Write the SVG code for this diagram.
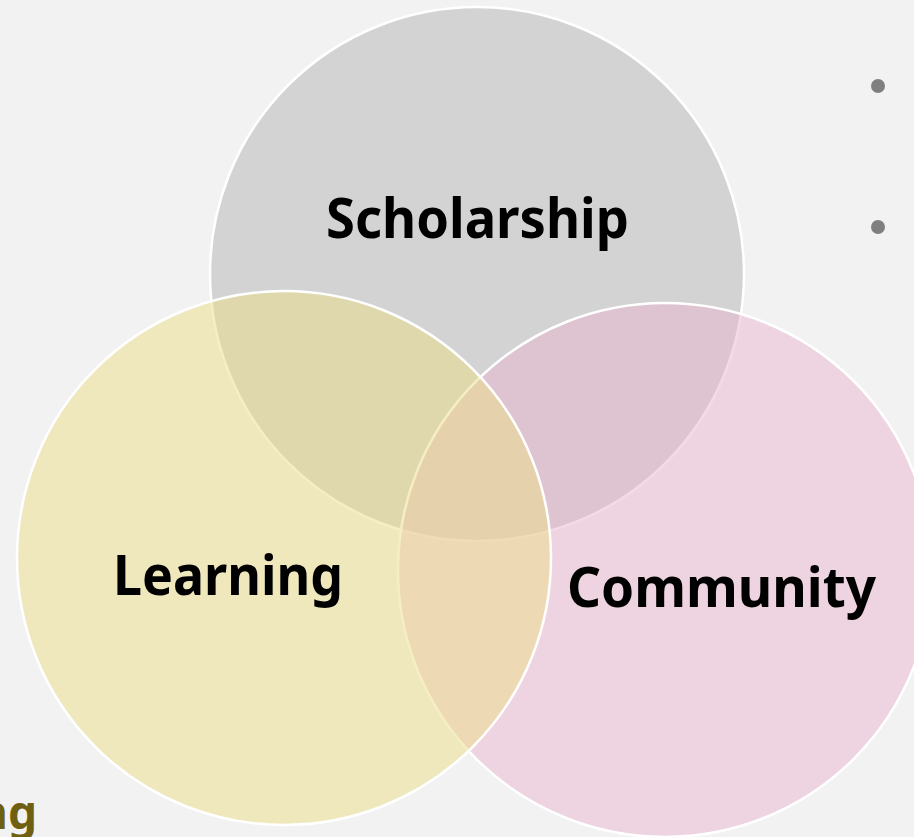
<svg xmlns="http://www.w3.org/2000/svg" width="914" height="837" viewBox="0 0 914 837">
  <style>
    .ring { stroke: #ffffff; stroke-width: 2.5; fill-opacity: 0.5; }
    .label { font-family: "Noto Sans", "Open Sans", sans-serif; font-weight: bold; font-size: 56px; fill: #000000; }
    .bullet { fill: #7f7f7f; }
  </style>
  <rect width="914" height="837" fill="#f2f2f2"/>

  <!-- clipped tail of a heading at the lower left -->
  <text x="37" y="829" text-anchor="end" font-family="'Noto Sans', 'Open Sans', sans-serif" font-weight="bold" font-size="46" fill="#6e6010">ng</text>

  <!-- list bullets on the right -->
  <circle class="bullet" cx="878" cy="86" r="7"/>
  <circle class="bullet" cx="878" cy="227" r="7"/>

  <g id="scholarship">
    <circle class="ring" cx="477" cy="274" r="267" fill="#b4b4b4"/>
    <text class="label" x="326" y="238" textLength="303" lengthAdjust="spacingAndGlyphs">Scholarship</text>
  </g>
  <g id="community">
    <circle class="ring" cx="665" cy="570" r="267" fill="#eab6d0"/>
    <text class="label" x="567" y="607" textLength="309" lengthAdjust="spacingAndGlyphs">Community</text>
  </g>
  <g id="learning">
    <circle class="ring" cx="284" cy="558" r="267" fill="#ecde88"/>
    <text class="label" x="113" y="595" textLength="230" lengthAdjust="spacingAndGlyphs">Learning</text>
  </g>
  <g id="connectors"/>
</svg>
